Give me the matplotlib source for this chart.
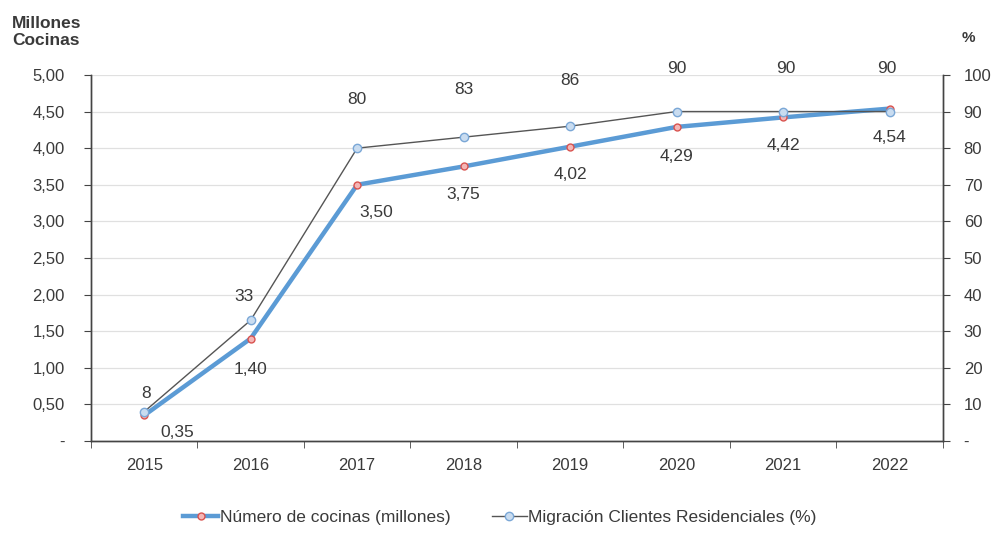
import matplotlib.pyplot as plt
from matplotlib.ticker import FuncFormatter, MultipleLocator

plt.rcParams['font.family'] = ['Liberation Sans', 'DejaVu Sans']

# --- data ---
years = ['2015', '2016', '2017', '2018', '2019', '2020', '2021', '2022']
cocinas = [0.35, 1.40, 3.50, 3.75, 4.02, 4.29, 4.42, 4.54]
migracion = [8, 33, 80, 83, 86, 90, 90, 90]

# label offsets in points (dx, dy)
off_cocinas = [(24, -12), (0, -22), (14, -20), (0, -20), (0, -20), (0, -21), (0, -20), (0, -21)]
off_migra = [(1, 13), (-5, 17), (0, 35), (0, 34), (0, 33), (0, 31), (2, 31), (-2, 31)]

TXT = '#3a3a3a'
GRID = '#e0e0e0'
FS_TICK = 12
FS_LABEL = 12.5

fig = plt.figure(figsize=(9.94, 5.36), dpi=100)
ax = fig.add_axes([0.0915, 0.1772, 0.857, 0.683])
ax2 = ax.twinx()

x = list(range(len(years)))

# thick series: number of stoves (left axis)
ax.plot(x, cocinas, color='#5b9bd5', lw=3.2, marker='o', ms=5,
        mfc='#f4b6b6', mec='#d9534f', mew=1.0, zorder=3)
# thin series: residential migration (right axis)
ax2.plot(x, migracion, color='#555555', lw=1.0, marker='o', ms=6,
         mfc='#c9dcf0', mec='#7aa7d6', mew=1.0, zorder=3)

for xi, v, (dx, dy) in zip(x, cocinas, off_cocinas):
    ax.annotate(f'{v:.2f}'.replace('.', ','), (xi, v), xytext=(dx, dy),
                textcoords='offset points', ha='center', va='center',
                fontsize=FS_LABEL, color=TXT)
for xi, v, (dx, dy) in zip(x, migracion, off_migra):
    ax2.annotate(str(v), (xi, v), xytext=(dx, dy),
                 textcoords='offset points', ha='center', va='center',
                 fontsize=FS_LABEL, color=TXT)

# axes ranges and ticks
ax.set_xlim(-0.5, len(years) - 0.5)
ax.set_ylim(0, 5)
ax2.set_ylim(0, 100)
ax.yaxis.set_major_locator(MultipleLocator(0.5))
ax2.yaxis.set_major_locator(MultipleLocator(10))
ax.yaxis.set_major_formatter(FuncFormatter(
    lambda v, p: '-' if abs(v) < 1e-9 else f'{v:.2f}'.replace('.', ',')))
ax2.yaxis.set_major_formatter(FuncFormatter(
    lambda v, p: '-' if abs(v) < 1e-9 else f'{v:.0f}'))

ax.set_xticks(x)
ax.set_xticklabels(years)
ax.set_xticks([i - 0.5 for i in range(len(years) + 1)], minor=True)
ax.tick_params(axis='x', which='major', length=0, pad=12, labelsize=FS_TICK, labelcolor=TXT)
ax.tick_params(axis='x', which='minor', length=5, direction='out', color='#444444')
ax.tick_params(axis='y', length=5, direction='out', color='#444444', labelsize=FS_TICK,
               labelcolor=TXT, pad=14)
ax2.tick_params(axis='y', length=5, direction='out', color='#444444', labelsize=FS_TICK,
                labelcolor=TXT, pad=10)

ax.grid(axis='y', color=GRID, lw=0.9)
ax.set_axisbelow(True)

for a in (ax, ax2):
    a.spines['top'].set_visible(False)
    for s in ('left', 'right', 'bottom'):
        a.spines[s].set_color('#444444')
        a.spines[s].set_linewidth(1.0)

fig.text(0.012, 0.97, 'Millones\nCocinas', fontsize=12.5, fontweight='bold',
         color=TXT, va='top', ha='left', linespacing=1.15)
fig.text(0.974, 0.93, '%', fontsize=11, fontweight='bold', color=TXT,
         va='center', ha='center')

# legend
h1, = ax.plot([], [], color='#5b9bd5', lw=3.2, marker='o', ms=5,
              mfc='#f4b6b6', mec='#d9534f', mew=1.0)
h2, = ax.plot([], [], color='#555555', lw=1.0, marker='o', ms=6,
              mfc='#c9dcf0', mec='#7aa7d6', mew=1.0)
fig.legend([h1, h2], ['Número de cocinas (millones)',
                      'Migración Clientes Residenciales (%)'],
           loc='center', bbox_to_anchor=(0.503, 0.035), ncol=2, frameon=False,
           fontsize=12.5, handlelength=2.0, handletextpad=0.1, columnspacing=2.4,
           labelcolor=TXT)

fig.savefig('out.png', dpi=100, facecolor='white')
